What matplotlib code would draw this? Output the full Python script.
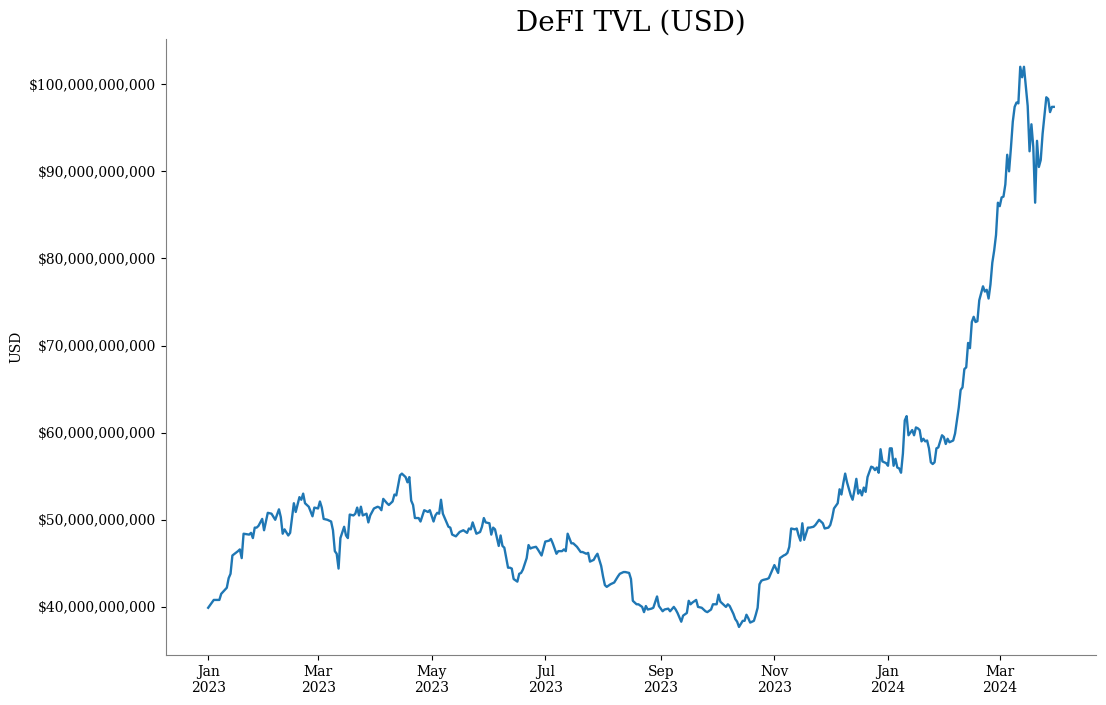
import numpy as np
import matplotlib
matplotlib.use("Agg")
import matplotlib.pyplot as plt
import matplotlib.dates as mdates
import matplotlib.ticker as mticker

# days since 2023-01-01, TVL in billions of USD
day_offset = [
    0, 3, 6, 7, 10, 11, 12, 13, 16, 17, 18, 19, 22, 23, 24, 25, 26, 27, 29, 30,
    32, 34, 36, 38, 39, 40, 41, 43, 44, 46, 47, 49, 50, 51, 52, 54, 56, 57, 59, 60,
    61, 62, 64, 66, 67, 68, 69, 70, 71, 73, 74, 75, 76, 78, 79, 80, 81, 82, 83, 85,
    86, 87, 88, 89, 91, 92, 93, 94, 96, 97, 99, 100, 101, 103, 104, 106, 107, 108, 109, 110,
    111, 113, 114, 116, 118, 119, 121, 122, 123, 124, 125, 126, 129, 130, 131, 133, 135, 137, 139, 140,
    141, 142, 144, 146, 147, 148, 149, 151, 152, 153, 154, 156, 157, 158, 159, 161, 162, 163, 164, 166,
    167, 168, 169, 171, 172, 173, 174, 176, 177, 179, 180, 181, 183, 184, 185, 187, 188, 190, 191, 192,
    193, 195, 196, 198, 200, 201, 203, 204, 205, 207, 208, 209, 211, 212, 213, 214, 216, 218, 220, 221,
    223, 224, 226, 227, 228, 230, 231, 233, 234, 235, 236, 238, 239, 241, 242, 244, 245, 247, 248, 250,
    251, 252, 254, 255, 257, 258, 259, 260, 262, 263, 265, 266, 267, 268, 270, 271, 273, 274, 275, 277,
    278, 279, 280, 282, 283, 284, 285, 287, 288, 289, 290, 291, 293, 294, 295, 296, 297, 298, 300, 301,
    303, 304, 306, 307, 309, 310, 311, 312, 313, 315, 316, 317, 318, 319, 320, 322, 323, 325, 326, 328,
    330, 331, 333, 334, 335, 336, 338, 339, 340, 341, 342, 343, 345, 346, 347, 348, 349, 350, 351, 352,
    353, 354, 356, 357, 358, 359, 360, 361, 362, 364, 365, 366, 367, 368, 369, 370, 371, 372, 373, 374,
    375, 376, 378, 379, 380, 381, 382, 383, 384, 385, 386, 387, 388, 389, 390, 391, 392, 394, 395, 396,
    397, 398, 400, 401, 402, 403, 404, 405, 406, 407, 408, 409, 410, 411, 412, 413, 414, 416, 417, 418,
    419, 420, 421, 422, 423, 424, 425, 426, 427, 428, 429, 430, 431, 432, 433, 434, 435, 436, 437, 438,
    439, 440, 441, 442, 443, 444, 445, 446, 447, 448, 450, 451, 452, 453, 454,
]

tvl_bn = [
    39.9, 40.8, 40.8, 41.5, 42.2, 43.3, 43.8, 45.9, 46.4, 46.6, 45.6, 48.4, 48.3, 48.5, 47.9, 49.1, 49.1, 49.3, 50.1, 48.8,
    50.8, 50.7, 50.0, 51.2, 50.3, 48.4, 48.9, 48.2, 48.5, 51.9, 50.9, 52.6, 52.3, 53.0, 51.9, 51.5, 50.4, 51.4, 51.3, 52.1,
    51.4, 50.1, 50.0, 49.8, 48.8, 46.4, 46.1, 44.4, 47.9, 49.2, 48.2, 47.9, 50.6, 50.5, 50.7, 51.4, 50.5, 51.5, 50.5, 50.7,
    49.7, 50.5, 50.9, 51.3, 51.5, 51.4, 51.1, 52.4, 51.9, 51.7, 52.1, 52.9, 52.8, 55.1, 55.3, 54.9, 54.3, 54.9, 52.2, 51.7,
    50.2, 50.2, 49.8, 51.1, 50.9, 51.1, 49.8, 50.5, 50.8, 50.7, 52.3, 50.7, 49.2, 49.1, 48.3, 48.1, 48.6, 48.8, 48.5, 49.0,
    48.9, 49.7, 48.4, 48.6, 49.2, 50.2, 49.7, 49.6, 48.3, 49.1, 48.9, 47.0, 48.2, 47.0, 46.8, 44.5, 44.5, 44.4, 43.2, 42.9,
    43.8, 43.9, 44.3, 45.6, 47.1, 46.7, 46.8, 46.9, 46.6, 45.9, 46.7, 47.5, 47.6, 47.8, 47.3, 46.1, 46.4, 46.4, 46.6, 46.4,
    48.4, 47.3, 47.3, 46.9, 46.3, 46.3, 46.1, 46.2, 45.2, 45.4, 45.8, 46.1, 44.7, 43.5, 42.5, 42.3, 42.6, 42.8, 43.5, 43.8,
    44.0, 44.0, 43.9, 43.2, 40.7, 40.3, 40.3, 40.0, 39.4, 40.1, 39.7, 39.8, 39.9, 41.2, 40.1, 39.5, 39.7, 39.8, 39.5, 40.0,
    39.7, 39.3, 38.3, 39.0, 39.3, 40.7, 40.3, 40.5, 40.8, 40.0, 39.9, 39.7, 39.5, 39.4, 39.7, 40.3, 40.3, 41.4, 40.6, 40.2,
    40.0, 40.3, 40.1, 39.2, 38.6, 38.3, 37.7, 38.4, 38.4, 39.1, 38.7, 38.2, 38.4, 39.1, 39.9, 42.6, 43.0, 43.1, 43.2, 43.3,
    44.3, 44.8, 43.9, 45.6, 45.9, 46.0, 46.2, 46.9, 49.0, 48.9, 49.0, 48.2, 47.6, 49.6, 47.7, 49.1, 49.1, 49.2, 49.4, 50.0,
    49.6, 49.0, 49.1, 49.4, 50.2, 51.3, 51.9, 53.5, 52.9, 54.2, 55.3, 54.3, 52.8, 52.3, 53.4, 54.7, 53.0, 53.4, 52.8, 53.7,
    53.2, 54.9, 56.1, 56.0, 55.7, 56.0, 55.4, 58.1, 56.7, 56.5, 56.2, 58.2, 58.2, 56.2, 57.0, 56.0, 55.9, 55.4, 57.6, 61.4,
    61.9, 59.7, 60.3, 59.7, 60.6, 60.5, 60.3, 59.0, 59.3, 59.0, 59.1, 58.2, 56.6, 56.4, 56.6, 58.2, 58.3, 59.7, 59.5, 58.7,
    59.3, 58.9, 59.1, 59.9, 61.4, 62.9, 64.9, 65.2, 67.3, 67.5, 70.3, 69.7, 72.7, 73.3, 72.7, 72.8, 75.2, 76.8, 76.2, 76.4,
    75.4, 77.0, 79.5, 80.9, 82.7, 86.4, 86.0, 87.0, 87.1, 88.5, 91.9, 90.0, 92.7, 95.7, 97.4, 97.9, 97.8, 102.0, 100.8, 102.0,
    99.7, 97.5, 92.3, 95.4, 92.8, 86.4, 93.5, 90.5, 91.3, 94.3, 98.5, 98.3, 96.8, 97.4, 97.4,
]

dates = np.datetime64("2023-01-01") + np.array(day_offset).astype("timedelta64[D]")
tvl = np.array(tvl_bn) * 1e9

plt.rcParams["font.family"] = "DejaVu Serif"

fig = plt.figure(figsize=(11.06, 7.05), dpi=100)
ax = fig.add_axes([0.150, 0.071, 0.841, 0.874])

ax.plot(dates, tvl, color="#1f77b4", linewidth=1.7)

ax.set_title("DeFI TVL (USD)", fontsize=20)
ax.set_ylabel("USD", fontsize=10)

ax.xaxis.set_major_locator(mdates.MonthLocator(bymonth=[1, 3, 5, 7, 9, 11]))
ax.xaxis.set_major_formatter(mdates.DateFormatter("%b\n%Y"))
ax.yaxis.set_major_formatter(mticker.StrMethodFormatter("${x:,.0f}"))
ax.tick_params(labelsize=10)

for side in ["top", "right"]:
    ax.spines[side].set_visible(False)
for side in ["left", "bottom"]:
    ax.spines[side].set_color("gray")

fig.savefig("out.png", dpi=100)
